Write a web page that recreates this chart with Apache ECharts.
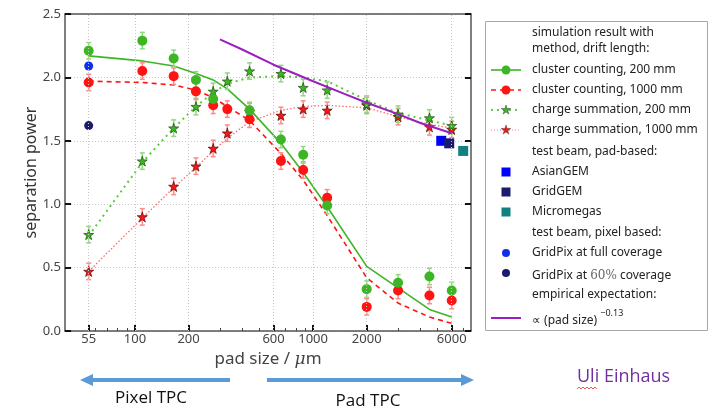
<!DOCTYPE html>
<html>
<head>
<meta charset="utf-8">
<script src="https://cdn.jsdelivr.net/npm/echarts@6/dist/echarts.min.js"></script>
<style>
  html, body { margin: 0; padding: 0; background: #fff; }
  #chart { width: 713px; height: 410px; }
</style>
</head>
<body>
<div id="chart"></div>
<script>
// pad sizes of the simulated points (um)
const simX = [55, 110, 165, 220, 275, 330, 440, 660, 880, 1200, 2000, 3000, 4500, 6000]
// simulation points, separation power
const ccShort = [2.21, 2.29, 2.15, 1.98, 1.83, null, 1.74, 1.51, 1.39, 0.99, 0.33, 0.38, 0.43, 0.32]
const ccLong = [1.96, 2.05, 2.01, 1.89, 1.78, 1.75, 1.67, 1.34, 1.27, 1.05, 0.19, 0.32, 0.28, 0.24]
const csShort = [0.76, 1.34, 1.60, 1.77, 1.89, 1.97, 2.05, 2.03, 1.92, 1.90, 1.79, 1.71, 1.68, 1.62]
const csLong = [0.47, 0.90, 1.14, 1.30, 1.44, 1.56, 1.73, 1.70, 1.75, 1.74, 1.78, 1.69, 1.61, 1.59]
const errBar = 0.065

// curves through the simulation
const ccShortFit = [2.17, 2.13, 2.09, 2.03, 1.98, 1.91, 1.75, 1.48, 1.25, 0.98, 0.51, 0.34, 0.17, 0.11]
const ccLongFit = [1.97, 1.96, 1.94, 1.90, 1.84, 1.77, 1.66, 1.40, 1.19, 0.91, 0.42, 0.22, 0.11, 0.06]
const csShortFit = [0.75, 1.33, 1.60, 1.77, 1.88, 1.95, 2.00, 2.01, 2.00, 1.97, 1.82, 1.72, 1.66, 1.62]
const csLongFit = [0.47, 0.89, 1.13, 1.29, 1.42, 1.52, 1.65, 1.74, 1.77, 1.78, 1.76, 1.69, 1.63, 1.60]

// empirical expectation, prop. to (pad size)^-0.13
const empX = [300, 400, 600, 1000, 1500, 2000, 3000, 4000, 6000]
const empY = [2.30, 2.22, 2.10, 1.97, 1.87, 1.80, 1.71, 1.64, 1.56]

// test beam results
const asianGEM = [[5240, 1.50]]
const gridGEM = [[5810, 1.48]]
const micromegas = [[6960, 1.42]]
const gridPixFull = [[55, 2.09]]
const gridPix60 = [[55, 1.62]]

const xTicks = [55, 100, 200, 600, 1000, 2000, 6000]
const xMinor = [60, 70, 80, 90, 300, 400, 500, 700, 800, 900, 3000, 4000, 5000, 7000]

const green = '#3db524'
const red = '#ff1414'
const purple = '#9b1fc0'
const starPts = [[50, 0], [61, 35], [98, 35], [68, 57], [79, 91], [50, 70], [21, 91], [32, 57], [2, 35], [39, 35]]
const star = 'path://M' + starPts.map(p => p.join(',')).join(' L') + ' Z'
const font = 'Noto Sans'

function pts (ys, err) {
  const out = []
  simX.forEach((x, i) => {
    if (ys[i] != null) out.push(err ? [x, ys[i], err] : [x, ys[i]])
  })
  return out
}

function errSeries (ys, color) {
  return {
    type: 'custom',
    data: pts(ys, errBar),
    encode: { x: 0, y: 1 },
    z: 3,
    renderItem: function (params, api) {
      const x = api.value(0), y = api.value(1), e = api.value(2)
      const a = api.coord([x, y + e])
      const b = api.coord([x, y - e])
      const st = { stroke: color, lineWidth: 1.5 }
      return {
        type: 'group',
        children: [
          { type: 'line', shape: { x1: a[0], y1: a[1], x2: b[0], y2: b[1] }, style: st },
          { type: 'line', shape: { x1: a[0] - 2.5, y1: a[1], x2: a[0] + 2.5, y2: a[1] }, style: st },
          { type: 'line', shape: { x1: b[0] - 2.5, y1: b[1], x2: b[0] + 2.5, y2: b[1] }, style: st }
        ]
      }
    }
  }
}

function fit (ys, color, width, dash) {
  return {
    type: 'line', data: pts(ys), symbol: 'none', z: 2,
    lineStyle: { color: color, width: width, type: dash }
  }
}

function dots (data, symbol, size, color, border) {
  return {
    type: 'scatter', data: data, symbol: symbol, symbolSize: size, z: 4,
    itemStyle: { color: color, borderColor: border || color, borderWidth: border ? 0.8 : 0, opacity: 1 }
  }
}

// legend box
const legRows = [
  { y: 33, text: 'simulation result with' },
  { y: 49, text: 'method, drift length:' },
  { y: 70, text: 'cluster counting, 200 mm', line: [green, 1.6, 'solid'], sym: 'circle', col: green },
  { y: 90, text: 'cluster counting, 1000 mm', line: [red, 1.6, [5, 4]], sym: 'circle', col: red },
  { y: 110, text: 'charge summation, 200 mm', line: [green, 1.6, [2, 4]], sym: 'star', col: green },
  { y: 130, text: 'charge summation, 1000 mm', line: ['#ff8080', 1, [1, 2]], sym: 'star', col: red },
  { y: 152, text: 'test beam, pad-based:' },
  { y: 172, text: 'AsianGEM', sym: 'rect', col: '#0000ff' },
  { y: 192, text: 'GridGEM', sym: 'rect', col: '#1a1a6e' },
  { y: 212, text: 'Micromegas', sym: 'rect', col: '#108080' },
  { y: 233, text: 'test beam, pixel based:' },
  { y: 253, text: 'GridPix at full coverage', sym: 'dot', col: '#1030e8' },
  { y: 273, text: '{t|GridPix at }{s|60%}{t| coverage}', sym: 'dot', col: '#1a1a6e' },
  { y: 295, text: 'empirical expectation:' },
  { y: 318, text: '{t|∝ (pad size) }{sup|−0.13}', line: [purple, 2, 'solid'] }
]

const legend = [{
  type: 'rect', shape: { x: 485.5, y: 21.5, width: 222, height: 309 },
  style: { fill: '#fff', stroke: '#a8a8a8', lineWidth: 1 }
}]
legRows.forEach(r => {
  legend.push({
    type: 'text', x: 532, y: r.y,
    style: {
      text: r.text, fill: '#222', font: '12px "' + font + '"', verticalAlign: 'middle',
      rich: {
        t: { fontSize: 12, fontFamily: font, fill: '#222', lineHeight: 18, verticalAlign: 'bottom' },
        s: { fontSize: 12, fontFamily: 'DejaVu Serif', fill: '#666', lineHeight: 18, verticalAlign: 'bottom' },
        sup: { fontSize: 9, fontFamily: font, fill: '#222', lineHeight: 18, verticalAlign: 'top' }
      }
    }
  })
  if (r.line) {
    legend.push({
      type: 'line', shape: { x1: 491, y1: r.y, x2: 521, y2: r.y },
      style: { stroke: r.line[0], lineWidth: r.line[1], lineDash: r.line[2] === 'solid' ? null : r.line[2] }
    })
  }
  if (r.sym === 'circle') {
    legend.push({ type: 'circle', shape: { cx: 506, cy: r.y, r: 4.5 }, style: { fill: r.col } })
  } else if (r.sym === 'star') {
    legend.push({
      type: 'polygon',
      shape: { points: starPts.map(p => [501 + p[0] / 10, r.y - 5 + p[1] / 10]) },
      style: { fill: r.col, stroke: '#444', lineWidth: 0.5 }
    })
  } else if (r.sym === 'rect') {
    legend.push({ type: 'rect', shape: { x: 501.5, y: r.y - 4.5, width: 9, height: 9 }, style: { fill: r.col } })
  } else if (r.sym === 'dot') {
    legend.push({ type: 'circle', shape: { cx: 506, cy: r.y, r: 4 }, style: { fill: r.col } })
  }
})

// arrows and notes under the plot
const arrowBlue = '#5b9bd5'
const notes = [
  { type: 'line', shape: { x1: 230, y1: 380, x2: 91, y2: 380 }, style: { stroke: arrowBlue, lineWidth: 4 } },
  { type: 'polygon', shape: { points: [[80, 380], [93, 374], [93, 386]] }, style: { fill: arrowBlue } },
  { type: 'line', shape: { x1: 267, y1: 380, x2: 462, y2: 380 }, style: { stroke: arrowBlue, lineWidth: 4 } },
  { type: 'polygon', shape: { points: [[474, 380], [461, 374], [461, 386]] }, style: { fill: arrowBlue } },
  { type: 'text', x: 151, y: 398, style: { text: 'Pixel TPC', font: '17px "Open Sans"', fill: '#111', align: 'center', verticalAlign: 'middle' } },
  { type: 'text', x: 368, y: 401, style: { text: 'Pad TPC', font: '17px "Open Sans"', fill: '#111', align: 'center', verticalAlign: 'middle' } },
  { type: 'text', x: 577, y: 377, style: { text: 'Uli Einhaus', font: '18px "Open Sans"', fill: '#7030a0', align: 'left', verticalAlign: 'middle' } },
  {
    type: 'polyline',
    shape: { points: [[577, 389], [579, 387], [581, 389], [583, 387], [585, 389], [587, 387], [589, 389], [591, 387], [593, 389], [595, 387], [597, 389]] },
    style: { stroke: '#e03030', lineWidth: 0.8, fill: null }
  }
]

const gridLine = { color: '#c8c8c8', type: [1, 2], width: 1 }

const chart = echarts.init(document.getElementById('chart'))
chart.setOption({
  animation: false,
  backgroundColor: '#fff',
  grid: { left: 65, right: 242, top: 14, bottom: 79 },
  xAxis: [{
    type: 'log', min: 40.5, max: 7700, position: 'bottom',
    name: '{n|pad size / }{mu|μ}{n|m}', nameLocation: 'middle', nameGap: 16,
    nameTextStyle: {
      rich: {
        n: { fontSize: 17, fontFamily: font, color: '#444' },
        mu: { fontSize: 17, fontFamily: 'DejaVu Serif', fontStyle: 'italic', color: '#444' }
      }
    },
    axisLine: { lineStyle: { color: '#555', width: 1.5 } },
    axisTick: { inside: true, length: 6, customValues: xTicks, lineStyle: { color: '#111', width: 2 } },
    axisLabel: { customValues: xTicks, formatter: v => String(Math.round(v)), margin: 2, fontSize: 13, fontFamily: font, color: '#444' },
    splitLine: { show: false }
  }, {
    type: 'log', min: 40.5, max: 7700, position: 'top',
    axisLine: { onZero: false, lineStyle: { color: '#555', width: 1.5 } },
    axisTick: { show: false }, axisLabel: { show: false }, splitLine: { show: false }
  }, {
    type: 'log', min: 40.5, max: 7700, position: 'bottom',
    axisLine: { show: false },
    axisTick: { inside: true, length: 3, customValues: xMinor, lineStyle: { color: '#444', width: 1 } },
    axisLabel: { show: false }, splitLine: { show: false }
  }],
  yAxis: [{
    type: 'value', min: 0, max: 2.5, interval: 0.5, position: 'left',
    name: 'separation power', nameLocation: 'middle', nameGap: 26, nameMoveOverlap: false,
    nameTextStyle: { fontSize: 16, fontFamily: font, color: '#333' },
    axisLine: { show: true, lineStyle: { color: '#555', width: 1.5 } },
    axisTick: { show: true, inside: true, length: 6, lineStyle: { color: '#111', width: 2 } },
    axisLabel: { formatter: v => v.toFixed(1), margin: 4, fontSize: 13, fontFamily: font, color: '#444' },
    splitLine: { show: true, lineStyle: gridLine }
  }, {
    type: 'value', min: 0, max: 2.5, interval: 0.5, position: 'right',
    axisLine: { show: true, lineStyle: { color: '#555', width: 1.5 } },
    axisTick: { show: true, inside: true, length: 6, lineStyle: { color: '#111', width: 2 } },
    axisLabel: { show: false }, splitLine: { show: false }
  }],
  series: [
    {
      // vertical grid lines at the labelled pad sizes
      type: 'line', data: [], z: 1,
      markLine: {
        silent: true, symbol: 'none', label: { show: false }, animation: false,
        lineStyle: gridLine,
        data: xTicks.map(v => ({ xAxis: v }))
      }
    },
    fit(csLongFit, '#ff6a6a', 1.3, [1.5, 2]),
    fit(csShortFit, '#5cc83a', 2, [2, 4]),
    fit(ccLongFit, red, 1.6, [5, 4]),
    fit(ccShortFit, green, 1.6, 'solid'),
    { type: 'line', data: empX.map((x, i) => [x, empY[i]]), symbol: 'none', z: 5, lineStyle: { color: purple, width: 2 } },
    errSeries(csLong, '#ff8a8a'),
    errSeries(csShort, '#8fd97f'),
    errSeries(ccLong, '#ff8a8a'),
    errSeries(ccShort, '#8fd97f'),
    dots(pts(csLong), star, 10, red, '#6a1010'),
    dots(pts(csShort), star, 10, green, '#2a5a18'),
    dots(pts(ccLong), 'circle', 10, red),
    dots(pts(ccShort), 'circle', 10, green),
    dots(asianGEM, 'rect', 10, '#0000ff'),
    dots(gridGEM, 'rect', 10, '#1a1a6e'),
    dots(micromegas, 'rect', 10, '#108080'),
    dots(gridPixFull, 'circle', 9, '#1030e8'),
    dots(gridPix60, 'circle', 9, '#1a1a6e')
  ],
  graphic: legend.concat(notes)
})
</script>
</body>
</html>
